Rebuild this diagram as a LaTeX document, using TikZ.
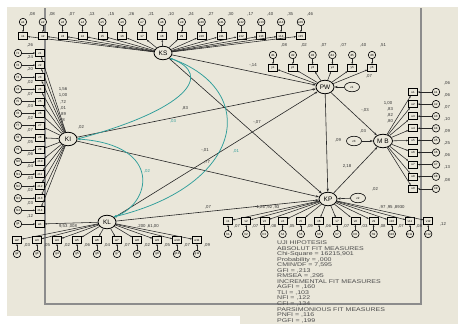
\documentclass[tikz,border=0pt]{standalone}
\usepackage{fontspec}
\setmainfont{Liberation Sans}
\newfontfamily\fitfont[FakeStretch=1.3]{Liberation Sans}
\usetikzlibrary{shapes.geometric,arrows.meta}

\definecolor{paper}{HTML}{EAE7DA}
\definecolor{covteal}{HTML}{2F9E9A}
\definecolor{framegray}{HTML}{8C8C8C}

\tikzset{
    latent/.style={draw, ellipse, line width=0.8pt, minimum width=18pt, minimum height=13.5pt, inner sep=0pt, fill=paper, font=\fontsize{6.5}{6.5}\selectfont},
    dist/.style={draw, ellipse, line width=0.6pt, minimum width=15pt, minimum height=9.5pt, inner sep=0pt, fill=paper, font=\fontsize{3}{3}\selectfont},
    item/.style={draw, rectangle, line width=0.7pt, minimum width=9pt, minimum height=7pt, inner sep=0pt, fill=paper, font=\fontsize{3}{3}\selectfont},
    resid/.style={draw, circle, line width=0.6pt, minimum size=7.5pt, inner sep=0pt, fill=paper, font=\fontsize{3}{3}\selectfont},
    est/.style={inner sep=0pt, font=\fontsize{4.3}{4.3}\selectfont, text=black!80},
    effect/.style={-{Stealth[length=3.2pt,width=2.2pt]}, line width=0.6pt, black!85},
    loading/.style={-{Stealth[length=2pt,width=1.6pt]}, line width=0.55pt, black!85},
    cov/.style={{Stealth[length=3pt,width=2.2pt]}-{Stealth[length=3pt,width=2.2pt]}, line width=0.75pt, covteal},
}

\begin{document}
\begin{tikzpicture}[x=1pt, y=-1pt]
    \useasboundingbox (0,0) rectangle (458,324);
    \fill[paper] (7,7) rectangle (458,316);
    \fill[paper] (240,316) rectangle (458,324);
    \draw[framegray, line width=1.2pt] (45,8) -- (45,304) -- (421,304) -- (421,8);

    \node[latent] (KS) at (163,53) {KS};
    \node[latent] (PW) at (325,87) {PW};
    \node[latent] (KI) at (68,139) {KI};
    \node[latent, minimum width=19pt] (MB) at (383,141) {M B};
    \node[latent] (KP) at (328,199) {KP};
    \node[latent] (KL) at (107,222) {KL};

    \foreach \v [count=\i] in {{,08},{,08},{,07},{,13},{,15},{,26},{,21},{,10},{,24},{,27},{,30},{,17},{,40},{,35},{,46}} {
        \node[item] (ks\i) at ({3.15+19.85*\i},36) {x\i};
        \node[resid] (eks\i) at ({3.15+19.85*\i},22) {e\i};
        \node[est] at ({12.15+19.85*\i},14) {\v};
        \draw[loading] (eks\i) -- (ks\i);
        \draw[loading] (KS) -- (ks\i);
    }

    \foreach \v [count=\i] in {{,08},{,02},{,07},{,07},{,40},{,51}} {
        \node[item] (pw\i) at ({253.2+19.8*\i},68) {y\i};
        \node[resid] (epw\i) at ({253.2+19.8*\i},55) {d\i};
        \node[est] at ({264.2+19.8*\i},45) {\v};
        \draw[loading] (epw\i) -- (pw\i);
        \draw[loading] (PW) -- (pw\i);
    }

    \foreach \v [count=\i] in {{,26},{,24},{,20},{,02},{,07},{,03},{,02},{,07},{,05},{,06},{,04},{,03},{,02},{,03}} {
        \node[item] (ki\i) at (40,{40.9+12.1*\i}) {z\i};
        \node[resid] (eki\i) at (18,{40.9+12.1*\i}) {f\i};
        \node[est] at (30,{33.4+12.1*\i}) {\v};
        \draw[loading] (eki\i) -- (ki\i);
        \draw[loading] (KI) -- (ki\i);
    }
    \node[est] at (63,89) {1,56};
    \node[est] at (63,95.5) {1,00};
    \node[est] at (63,102) {,72};
    \node[est] at (63,108) {,01};
    \node[est] at (63,114) {,89};
    \node[est] at (63,120) {,8};
    \node[est] at (81,127) {,02};

    \node[item] (kl1) at (40,224) {w1};
    \node[resid] (ekl1) at (18,224) {g1};
    \node[est] at (30,216.5) {,12};
    \draw[loading] (ekl1) -- (kl1);
    \draw[loading] (KL) -- (kl1);
    \foreach \v [count=\j] in {{,03},{,05},{,02},{,06},{,04},{,07},{,02},{,05},{,07},{,09}} {
        \pgfmathtruncatemacro{\i}{\j+1}
        \node[item] (kl\i) at ({-23+20*\i},240) {w\i};
        \node[resid] (ekl\i) at ({-23+20*\i},254) {g\i};
        \node[est] at ({-13+20*\i},245) {\v};
        \draw[loading] (ekl\i) -- (kl\i);
        \draw[loading] (KL) -- (kl\i);
    }
    \node[est] at (68,226) {9,53 ,008};
    \node[est] at (148,226) {,200 ,61,00};

    \foreach \v [count=\i] in {{,07},{,07},{,08},{,05},{,09},{,06},{,07},{,03},{,08},{,07},{,08}} {
        \node[item] (kp\i) at ({209.8+18.2*\i},221) {v\i};
        \node[resid] (ekp\i) at ({209.8+18.2*\i},234) {h\i};
        \node[est] at ({218.8+18.2*\i},226.5) {\v};
        \draw[loading] (ekp\i) -- (kp\i);
        \draw[loading] (KP) -- (kp\i);
    }
    \node[item] (kp12) at (428.2,221) {v12};
    \node[resid] (ekp12) at (428.2,234) {h12};
    \node[est] at (443,224) {,12};
    \draw[loading] (ekp12) -- (kp12);
    \draw[loading] (KP) -- (kp12);
    \node[est] at (268,207) {1,26 ,92 ,93};
    \node[est] at (392,207) {,97 ,95 ,8930};

    \foreach \v [count=\i] in {{,06},{,06},{,07},{,10},{,09},{,25},{,06},{,13},{,08}} {
        \node[item] (mb\i) at (413,{79.9+12.1*\i}) {u\i};
        \node[resid] (emb\i) at (436,{79.9+12.1*\i}) {k\i};
        \node[est] at (447,{70.9+12.1*\i}) {\v};
        \draw[loading] (emb\i) -- (mb\i);
        \draw[loading] (MB) -- (mb\i);
    }
    \node[est] at (388,103) {1,00};
    \node[est] at (390,109) {,83};
    \node[est] at (390,115) {,82};
    \node[est] at (390,121) {,80};

    \node[dist] (zPW) at (352,87) {z1};
    \node[dist] (zMB) at (354,141) {z3};
    \node[dist] (zKP) at (358,198) {z2};
    \draw[effect] (zPW) -- (PW);
    \draw[effect] (zMB) -- (MB);
    \draw[effect] (zKP) -- (KP);
    \node[est] at (369,76) {,07};
    \node[est] at (338,140) {,09};
    \node[est] at (363,131) {,03};
    \node[est] at (375,189) {,02};

    \draw[effect] (KS) -- (PW);
    \draw[effect] (KS) -- (KP);
    \draw[effect] (KI) -- (PW);
    \draw[effect] (KI) -- (KP);
    \draw[effect] (KL) -- (PW);
    \draw[effect] (KL) -- (KP);
    \draw[effect] (PW) -- (MB);
    \draw[effect] (PW) -- (KP);
    \draw[effect] (KP) -- (MB);
    \node[est] at (253,65) {-,14};
    \node[est] at (185,108) {,83};
    \node[est] at (257,122) {-,07};
    \node[est] at (205,150) {-,01};
    \node[est] at (207,162) {,77};
    \node[est] at (208,207) {,07};
    \node[est] at (365,110) {-,03};
    \node[est] at (347,166) {2,18};

    \draw[cov] (KS.south east) .. controls (215,75) and (185,110) .. (KI.east);
    \draw[cov] (KS.south east) .. controls (260,90) and (245,185) .. (KL.north east);
    \draw[cov] (KI.east) .. controls (165,145) and (150,205) .. (KL.north east);
    \node[est, text=covteal] at (173,121) {,03};
    \node[est, text=covteal] at (236,151) {,01};
    \node[est, text=covteal] at (147,171) {,02};

    \node[anchor=north west, align=left, inner sep=0pt, font=\fitfont\fontsize{5.4}{5.55}\selectfont, text=black!70] (fit) at (277,240.5) {UJI HIPOTESIS\\ ABSOLUT FIT MEASURES\\ Chi-Square = 16215,901\\ Probability = ,000\\ CMIN/DF = 7,595\\ GFI = ,213\\ RMSEA = ,295\\ INCREMENTAL FIT MEASURES\\ AGFI = ,160\\ TLI = ,103\\ NFI = ,122\\ CFI = ,134\\ PARSIMONIOUS FIT MEASURES\\ PNFI = ,116\\ PGFI = ,199};
\end{tikzpicture}
\end{document}
